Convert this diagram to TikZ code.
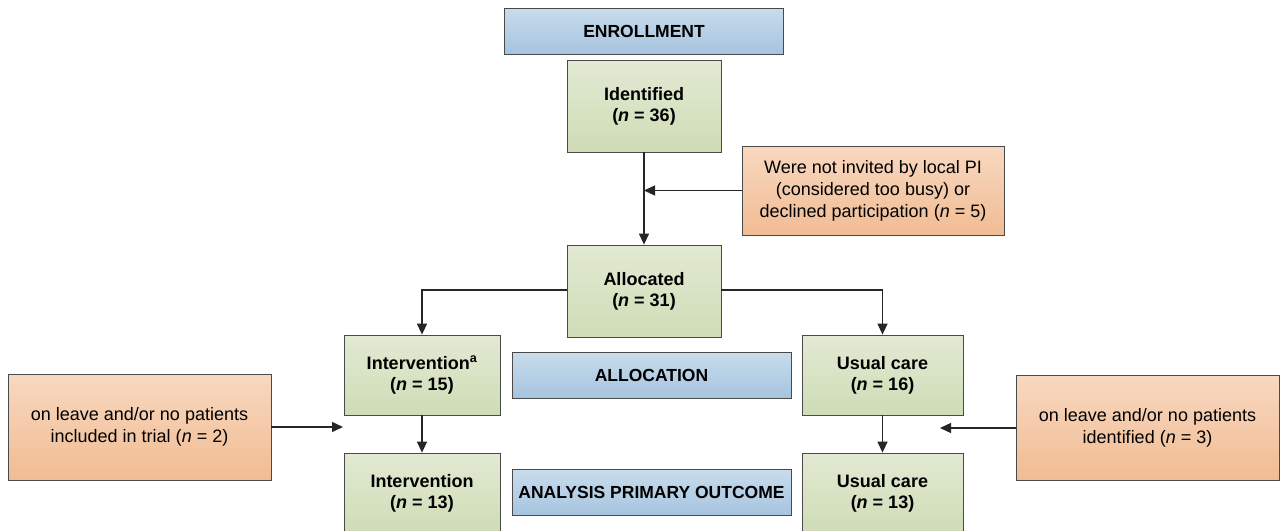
\documentclass[tikz,border=0pt]{standalone}
\usepackage{fontspec}
\setmainfont{Liberation Sans}
\usetikzlibrary{arrows.meta}
\definecolor{blueT}{HTML}{C8DCEC}
\definecolor{blueB}{HTML}{A6C4DF}
\definecolor{greenT}{HTML}{E2EAD3}
\definecolor{greenB}{HTML}{CFDCB6}
\definecolor{orT}{HTML}{F8D8C0}
\definecolor{orB}{HTML}{F1BC93}
\definecolor{edge}{HTML}{4A4A4A}
\begin{document}
\begin{tikzpicture}[x=1pt,y=-1pt,
  box/.style={draw=edge, line width=0.8pt, inner sep=0pt, align=center,
    font=\fontsize{18}{22}\selectfont},
  bluebox/.style={box, top color=blueT, bottom color=blueB,
    font=\fontsize{17.5}{22}\selectfont\bfseries, minimum width=279pt, minimum height=46pt},
  greenbox/.style={box, top color=greenT, bottom color=greenB,
    font=\fontsize{18}{21}\selectfont\bfseries},
  orbox/.style={box, top color=orT, bottom color=orB},
  arr/.style={-{Triangle[length=11pt,width=10pt]}, line width=1.4pt, draw=black!85}]
\useasboundingbox (0,0) rectangle (1281,530);
% blue labels
\node[bluebox] (enr) at (644,31) {ENROLLMENT};
\node[bluebox] (alloc) at (651.5,375) {ALLOCATION};
\node[bluebox] (anal) at (651.5,492.5) {ANALYSIS PRIMARY OUTCOME};
% green boxes
\node[greenbox, minimum width=154pt, minimum height=92pt] (ident) at (644,106) {Identified\\(\textit{n} = 36)};
\node[greenbox, minimum width=154pt, minimum height=92pt] (allocd) at (644,291) {Allocated\\(\textit{n} = 31)};
\node[greenbox, minimum width=156pt, minimum height=80pt] (int1) at (422,375) {Intervention\textsuperscript{a}\\(\textit{n} = 15)};
\node[greenbox, minimum width=161pt, minimum height=80pt] (uc1) at (882.5,375) {Usual care\\(\textit{n} = 16)};
\node[greenbox, minimum width=156pt, minimum height=80pt] (int2) at (422,493) {Intervention\\(\textit{n} = 13)};
\node[greenbox, minimum width=161pt, minimum height=80pt] (uc2) at (882.5,493) {Usual care\\(\textit{n} = 13)};
% orange boxes
\node[orbox, minimum width=262pt, minimum height=89pt] (excl1) at (873,190.5) {Were not invited by local PI\\(considered too busy) or\\declined participation (\textit{n} = 5)};
\node[orbox, minimum width=263pt, minimum height=106pt] (excl2) at (139.5,427) {on leave and/or no patients\\included in trial (\textit{n} = 2)};
\node[orbox, minimum width=263pt, minimum height=105pt] (excl3) at (1147.5,427.5) {on leave and/or no patients\\identified (\textit{n} = 3)};
% connectors
\coordinate (j1) at (644,190.5);
\draw[arr] (ident.south) -- (allocd.north);
\draw[arr] (excl1.west) -- (j1);
\draw[arr] (allocd.west |- 0,290) -| (int1.north);
\draw[arr] (allocd.east |- 0,290) -| (uc1.north);
\draw[arr] (int1.south) -- (int2.north);
\draw[arr] (uc1.south) -- (uc2.north);
\coordinate (j2) at (343,427);
\coordinate (j3) at (940,428);
\draw[arr] (excl2.east) -- (j2);
\draw[arr] (excl3.west |- j3) -- (j3);
\end{tikzpicture}
\end{document}
